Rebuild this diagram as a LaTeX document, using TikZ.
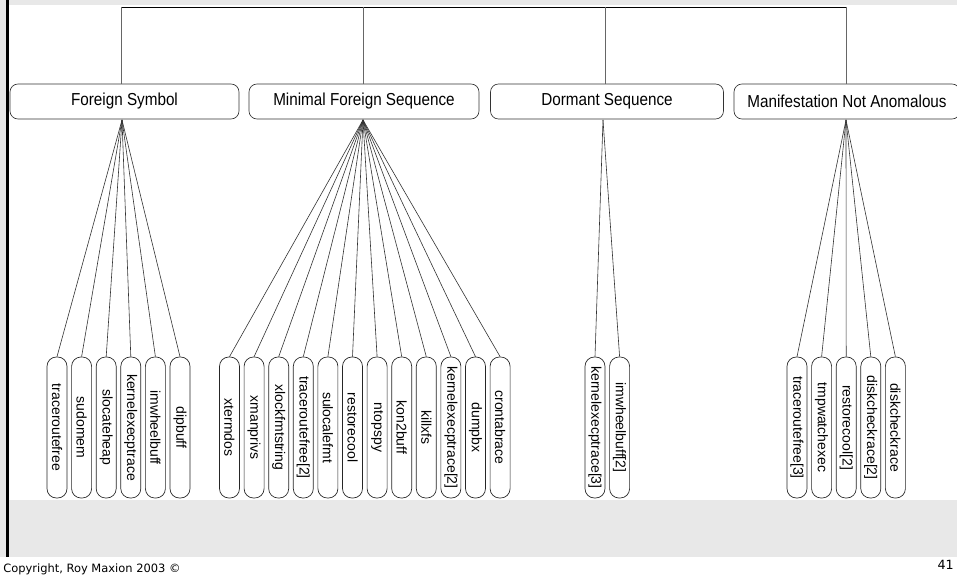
\documentclass[tikz,border=0pt]{standalone}
\usepackage{fontspec}
\setmainfont{Liberation Sans}
\newfontfamily\catfont[FakeStretch=0.88]{Liberation Sans}
\newfontfamily\footfont{DejaVu Sans}
\begin{document}
\begin{tikzpicture}[x=0.75pt,y=-0.75pt,
  catbox/.style={draw=black!80, line width=0.5pt, rounded corners=6pt,
    minimum height=26.25pt, inner sep=0pt, font=\catfont\fontsize{13}{15}\selectfont},
  leaf/.style={draw=black!85, line width=0.5pt, rounded corners=7pt, rotate=-90,
    minimum width=105.75pt, minimum height=15pt, inner sep=0pt,
    font=\fontsize{10.5}{12}\selectfont},
  link/.style={draw=black!80, line width=0.45pt},
  trunk/.style={draw=black!60, line width=0.5pt},
  foot/.style={font=\footfont\fontsize{8.6}{10}\selectfont, inner sep=0pt}
]
\useasboundingbox (0,0) rectangle (957,577);
\clip (0,0) rectangle (957,577);

% page background
\fill[black!9] (0,0) rectangle (957,577);
\fill[white] (9,5) rectangle (957,500);
\fill[white] (0,557) rectangle (957,577);
\fill[black] (6,0) rectangle (9,557);

% category boxes
\node[catbox, minimum width=171.75pt] (fs)  at (124.5,101.5) {Foreign Symbol};
\node[catbox, minimum width=172.5pt]  (mfs) at (364,101.5)   {Minimal Foreign Sequence};
\node[catbox, minimum width=174.75pt] (ds)  at (607,101.5)   {Dormant Sequence};
\node[catbox, minimum width=169.5pt]  (mna) at (847,101.5)   {Manifestation Not Anomalous};

% branch lines from the common parent
\coordinate (tfs)  at (121,7);
\coordinate (tmfs) at (363,7);
\coordinate (tds)  at (605,7);
\coordinate (tmna) at (846,7);
\draw[line width=0.5pt] (tfs) -- (tmna);
\draw[trunk] (tfs) -- (fs.north -| tfs);
\draw[trunk] (tmfs) -- (mfs.north -| tmfs);
\draw[trunk] (tds) -- (ds.north -| tds);
\draw[trunk] (tmna) -- (mna.north -| tmna);

% entry points below each category
\coordinate (fsin)  at (122,120);
\coordinate (mfsin) at (363,120);
\coordinate (dsin)  at (603,120);
\coordinate (mnain) at (846,120);

% leaves
\foreach \t [count=\i] in {traceroutefree,sudomem,slocateheap,kernelexecptrace,imwheelbuff,dipbuff} {
  \node[leaf] (fs\i) at ({57+24.6*(\i-1)},427.5) {\t};
  \draw[link] (fs\i.west) -- (fsin);
}
\foreach \t [count=\i] in {xtermdos,xmanprivs,xlockfmtstring,traceroutefree[2],sulocalefmt,restorecool,ntopspy,kon2buff,killxfs,kernelexecptrace[2],dumpbx,crontabrace} {
  \node[leaf] (mfs\i) at ({229.5+24.6*(\i-1)},427.5) {\t};
  \draw[link] (mfs\i.west) -- (mfsin);
}
\foreach \t [count=\i] in {kernelexecptrace[3],imwheelbuff[2]} {
  \node[leaf] (ds\i) at ({595+24.6*(\i-1)},427.5) {\t};
  \draw[link] (ds\i.west) -- (dsin);
}
\foreach \t [count=\i] in {traceroutefree[3],tmpwatchexec,restorecool[2],diskcheckrace[2],diskcheckrace} {
  \node[leaf] (mna\i) at ({797+24.6*(\i-1)},427.5) {\t};
  \draw[link] (mna\i.west) -- (mnain);
}

% footer
\node[foot, anchor=west] (copy) at (3,569) {Copyright, Roy Maxion 2003 ©};
\node[foot, anchor=east, font=\footfont\fontsize{9.5}{11}\selectfont] (pg) at (954,565) {41};
\end{tikzpicture}
\end{document}
